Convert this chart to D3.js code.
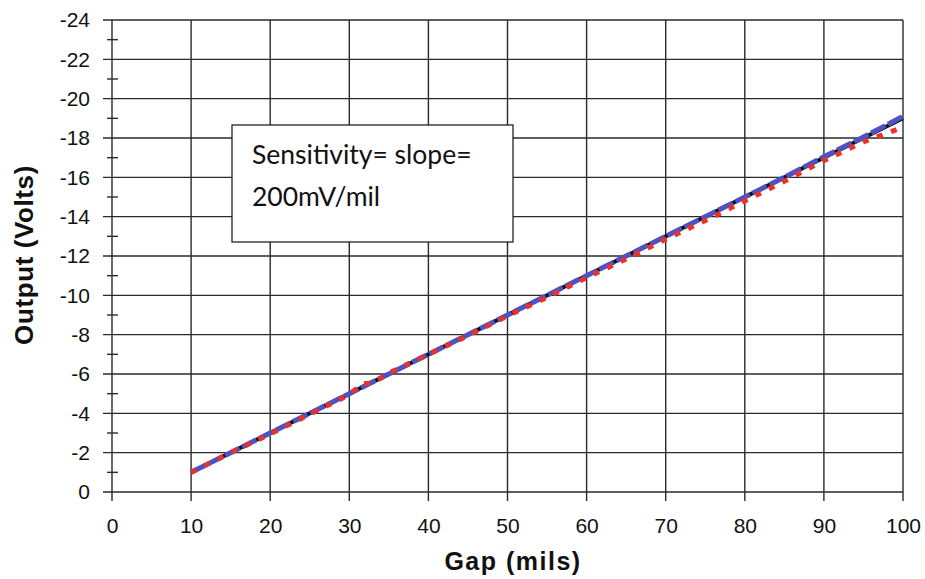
<!DOCTYPE html>
<html>
<head>
<meta charset="utf-8">
<script src="https://cdn.jsdelivr.net/npm/d3@7"></script>
<style>
  body { margin: 0; background: #fff; }
  svg { display: block; }
</style>
</head>
<body>
<div id="chart"></div>
<script>
// gap values (mils) and output (volts)
var gapFit = [10, 100];
var voltsFit = [-1, -19];

var gapBlue = [10, 15, 20, 25, 30, 35, 40, 45, 50, 55, 60, 65, 70, 75, 80, 85, 90, 95, 100];
var voltsBlue = [-1.0, -2.0, -3.0, -4.0, -5.0, -6.0, -7.0, -8.0, -9.0, -10.0, -11.0, -12.0, -13.0, -14.0, -15.0, -16.0, -17.05, -18.05, -19.1];

var gapRed = [10, 15, 20, 25, 30, 31.6, 33, 35, 40, 45, 50, 55, 60, 65, 70, 75, 80, 85, 90, 95, 100];
var voltsRed = [-1.0, -2.0, -2.95, -3.95, -4.95, -5.5, -5.55, -6.05, -7.0, -7.95, -8.95, -9.9, -10.9, -11.85, -12.85, -13.8, -14.8, -15.8, -16.85, -17.8, -18.55];

var xTicks = [0, 10, 20, 30, 40, 50, 60, 70, 80, 90, 100];
var yTicks = [0, -2, -4, -6, -8, -10, -12, -14, -16, -18, -20, -22, -24];
var yMinor = [-1, -3, -5, -7, -9, -11, -13, -15, -17, -19, -21, -23];

var svgWidth = 925, svgHeight = 579;
var plotLeft = 112, plotRight = 903, plotTop = 20, plotBottom = 492;

var x = d3.scaleLinear().domain([0, 100]).range([plotLeft, plotRight]);
var y = d3.scaleLinear().domain([0, -24]).range([plotBottom, plotTop]);

var svg = d3.select('#chart').append('svg')
  .attr('width', svgWidth)
  .attr('height', svgHeight);

var gridColour = '#2a2a2a';
var axisFont = "'Liberation Sans', Arial, sans-serif";

// horizontal grid
svg.append('g').selectAll('line').data(yTicks)
  .enter().append('line')
    .attr('x1', plotLeft - 9).attr('x2', plotRight)
    .attr('y1', function (d) { return y(d); })
    .attr('y2', function (d) { return y(d); })
    .attr('stroke', gridColour).attr('stroke-width', 1.4);

// vertical grid + ticks below the axis
svg.append('g').selectAll('line').data(xTicks)
  .enter().append('line')
    .attr('x1', function (d) { return x(d); })
    .attr('x2', function (d) { return x(d); })
    .attr('y1', plotTop).attr('y2', plotBottom + 9)
    .attr('stroke', gridColour).attr('stroke-width', 1.4);

// minor ticks on y axis
svg.append('g').selectAll('line').data(yMinor)
  .enter().append('line')
    .attr('x1', plotLeft - 5).attr('x2', plotLeft + 6)
    .attr('y1', function (d) { return y(d); })
    .attr('y2', function (d) { return y(d); })
    .attr('stroke', gridColour).attr('stroke-width', 1.4);

// tick labels via axes
var yAxis = d3.axisLeft(y).tickValues(yTicks).tickSize(0).tickPadding(22)
  .tickFormat(function (d) { return d === 0 ? '0' : '-' + Math.abs(d); });
var gy = svg.append('g').attr('transform', 'translate(' + plotLeft + ',0)').call(yAxis);
gy.select('.domain').remove();
gy.attr('font-family', axisFont).attr('font-size', 21);
gy.selectAll('text').attr('fill', '#111');

var xAxis = d3.axisBottom(x).tickValues(xTicks).tickSize(0).tickPadding(26)
  .tickFormat(d3.format('d'));
var gx = svg.append('g').attr('transform', 'translate(0,' + plotBottom + ')').call(xAxis);
gx.select('.domain').remove();
gx.attr('font-family', axisFont).attr('font-size', 21);
gx.selectAll('text').attr('fill', '#111');

// series
var line = d3.line()
  .x(function (d) { return x(d[0]); })
  .y(function (d) { return y(d[1]); });

svg.append('path')
  .datum(d3.zip(gapFit, voltsFit))
  .attr('d', line)
  .attr('fill', 'none').attr('stroke', '#111').attr('stroke-width', 4);

svg.append('path')
  .datum(d3.zip(gapBlue, voltsBlue))
  .attr('d', line)
  .attr('fill', 'none').attr('stroke', '#4f52c4').attr('stroke-width', 5)
  .attr('stroke-dasharray', '16,3');

svg.append('path')
  .datum(d3.zip(gapRed, voltsRed))
  .attr('d', line)
  .attr('fill', 'none').attr('stroke', '#e8322b').attr('stroke-width', 5)
  .attr('stroke-dasharray', '6,9');

// axis titles
svg.append('text')
  .attr('transform', 'translate(33,255) rotate(-90)')
  .attr('text-anchor', 'middle')
  .attr('font-family', axisFont)
  .attr('font-weight', 'bold').attr('font-size', 26)
  .attr('letter-spacing', 0.6)
  .attr('fill', '#111')
  .text('Output (Volts)');

svg.append('text')
  .attr('x', 513).attr('y', 570)
  .attr('text-anchor', 'middle')
  .attr('font-family', axisFont)
  .attr('font-weight', 'bold').attr('font-size', 25)
  .attr('letter-spacing', 1.5)
  .attr('fill', '#111')
  .text('Gap (mils)');

// annotation box
svg.append('rect')
  .attr('x', 232).attr('y', 125).attr('width', 281).attr('height', 117)
  .attr('fill', '#fff').attr('stroke', '#111').attr('stroke-width', 1.2);

var note = svg.append('text')
  .attr('font-family', 'Lato, "Open Sans", sans-serif')
  .attr('font-size', 26.5).attr('fill', '#111');
note.append('tspan').attr('x', 252).attr('y', 164).text('Sensitivity= slope=');
note.append('tspan').attr('x', 252).attr('y', 206).text('200mV/mil');
</script>
</body>
</html>
